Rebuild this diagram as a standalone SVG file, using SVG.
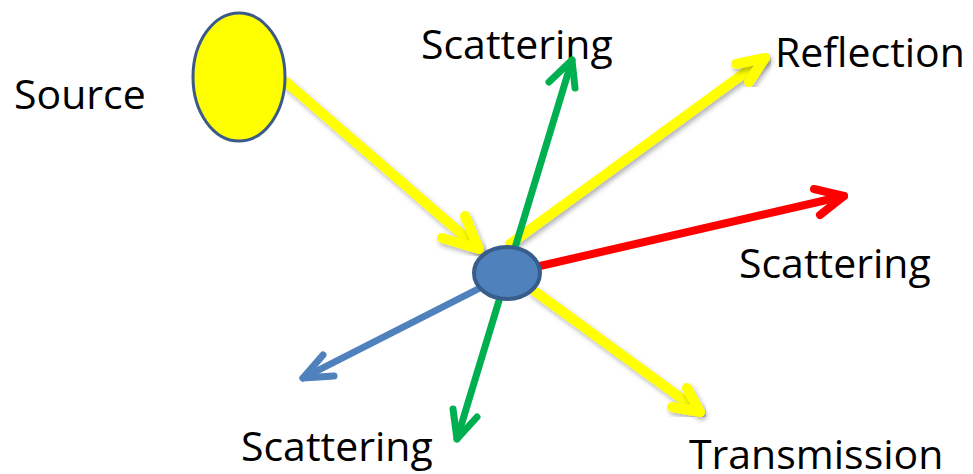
<svg xmlns="http://www.w3.org/2000/svg" width="973" height="474" viewBox="0 0 973 474">
<style>
  .lbl { font-family: "Open Sans", "Liberation Sans", sans-serif; font-size: 41px; fill: #000; }
  .arr { fill: none; stroke-linecap: round; stroke-linejoin: round; }
  .yel { stroke: #ffff00; stroke-width: 10; filter: url(#sh); }
  .grn { stroke: #00b050; stroke-width: 7; }
  .red { stroke: #ff0000; stroke-width: 8; }
  .blu { stroke: #4f81bd; stroke-width: 7; }
</style>
<defs>
  <filter id="sh" x="-20%" y="-20%" width="140%" height="140%">
    <feDropShadow dx="2" dy="3" stdDeviation="2.5" flood-color="#000" flood-opacity="0.3"/>
  </filter>
</defs>
<rect width="973" height="474" fill="#fff"/>

<g id="labels">
  <text class="lbl" x="14" y="109">Source</text>
  <text class="lbl" x="421" y="59">Scattering</text>
  <text class="lbl" x="775" y="67">Reflection</text>
  <text class="lbl" x="739" y="278">Scattering</text>
  <text class="lbl" x="241" y="461">Scattering</text>
  <text class="lbl" x="689" y="469">Transmission</text>
</g>

<g id="connectors">
  <g id="incident">
    <line class="arr yel" x1="286" y1="82" x2="479" y2="249"/>
    <polyline class="arr yel" points="465,216 479,249 442,238"/>
  </g>
  <g id="reflection">
    <line class="arr yel" x1="510" y1="244" x2="765" y2="58"/>
    <polyline class="arr yel" points="736,64 765,58 749,82"/>
  </g>
  <g id="transmission">
    <line class="arr yel" x1="533" y1="290" x2="700" y2="412"/>
    <polyline class="arr yel" points="687,388 700,412 672,407"/>
  </g>
  <g id="scatter-green">
    <line class="arr grn" x1="572" y1="60" x2="457" y2="439"/>
    <polyline class="arr grn" points="549,82 572,60 575,88"/>
    <polyline class="arr grn" points="453,409 457,439 477,417"/>
  </g>
  <g id="scatter-red">
    <line class="arr red" x1="540" y1="266" x2="844" y2="196"/>
    <polyline class="arr red" points="814,189 844,196 820,215"/>
  </g>
  <g id="scatter-blue">
    <line class="arr blu" x1="480" y1="288" x2="303" y2="378"/>
    <polyline class="arr blu" points="323,355 303,378 334,376"/>
  </g>
</g>

<g id="source">
  <ellipse cx="239" cy="77" rx="46" ry="64" fill="#ffff00" stroke="#3b5a87" stroke-width="3"/>
</g>
<g id="particle">
  <ellipse cx="507" cy="273" rx="33" ry="26" fill="#4f81bd" stroke="#385d8a" stroke-width="4"/>
</g>
</svg>
